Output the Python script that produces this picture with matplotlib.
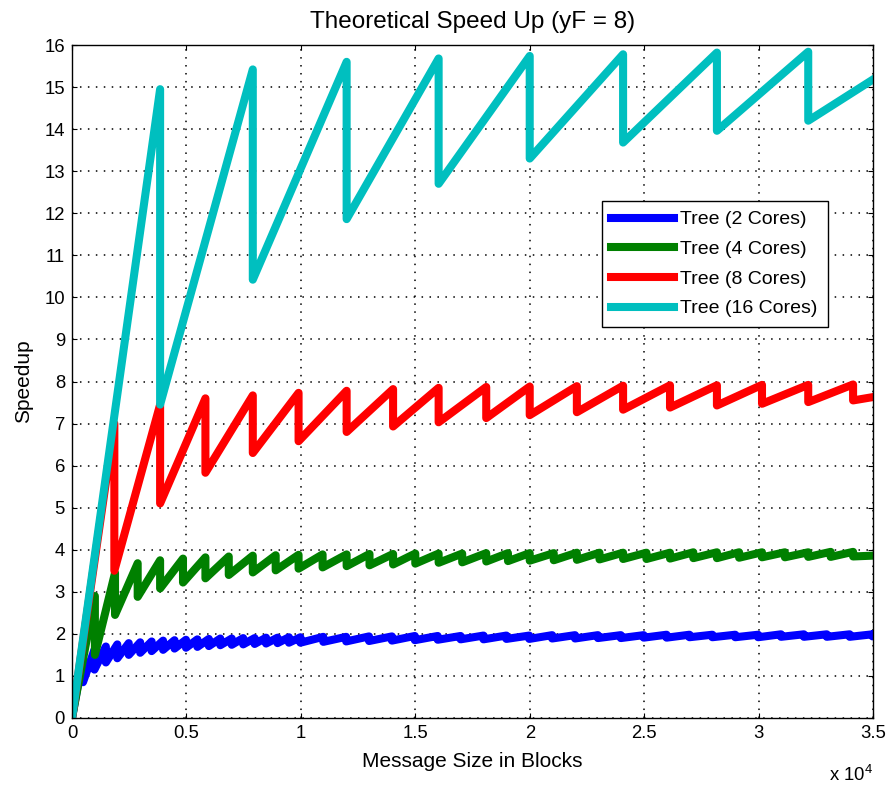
import matplotlib
matplotlib.use('Agg')
import matplotlib.pyplot as plt

plt.rcParams['font.family'] = ['Liberation Sans', 'DejaVu Sans']

x_max = 35000

# each curve is a sawtooth: position of the drop (blocks), value just before, value just after
blue_drop = [480, 980, 1480, 1980, 2480, 2980, 3480, 3980, 4480, 4980,
             5480, 5980, 6480, 6980, 7480, 7980, 8480, 8980, 9480, 9980,
             10980, 11980, 12980, 13980, 14980, 15980, 16980, 17980, 18980, 19980,
             20980, 21980, 22980, 23980, 24980, 25980, 26980, 27980, 28980, 29980,
             30980, 31980, 32980, 33980, 34980]
blue_peak = [1.45, 1.62, 1.7, 1.75, 1.78, 1.8, 1.82, 1.84, 1.85, 1.86,
             1.87, 1.88, 1.89, 1.89, 1.9, 1.9, 1.91, 1.91, 1.92, 1.92,
             1.93, 1.93, 1.94, 1.94, 1.95, 1.95, 1.95, 1.96, 1.96, 1.96,
             1.97, 1.97, 1.97, 1.97, 1.97, 1.98, 1.98, 1.98, 1.98, 1.98,
             1.99, 1.99, 1.99, 1.99, 1.99]
blue_trough = [0.85, 1.15, 1.32, 1.42, 1.5, 1.55, 1.59, 1.62, 1.65, 1.67,
               1.69, 1.71, 1.73, 1.74, 1.75, 1.76, 1.77, 1.78, 1.79, 1.79,
               1.81, 1.82, 1.83, 1.84, 1.85, 1.86, 1.87, 1.87, 1.88, 1.88,
               1.89, 1.89, 1.9, 1.9, 1.91, 1.91, 1.92, 1.92, 1.92, 1.92,
               1.93, 1.93, 1.93, 1.93, 1.94]
blue_end = 1.96

green_drop = [1000, 1880, 2870, 3850, 4850, 5830, 6850, 7900, 8900, 9900,
              10950, 12000, 13000, 14030, 15000, 16020, 17050, 18100, 19050, 20000,
              21050, 22060, 23050, 24080, 25100, 26130, 27150, 28180, 29150, 30150,
              31150, 32170, 33150, 34130]
green_peak = [2.9, 3.45, 3.68, 3.75, 3.79, 3.82, 3.84, 3.86, 3.87, 3.88,
              3.89, 3.89, 3.9, 3.9, 3.91, 3.91, 3.91, 3.92, 3.92, 3.92,
              3.92, 3.93, 3.93, 3.93, 3.93, 3.93, 3.94, 3.94, 3.94, 3.94,
              3.94, 3.94, 3.95, 3.95]
green_trough = [1.5, 2.45, 2.88, 3.08, 3.22, 3.32, 3.4, 3.46, 3.51, 3.55,
                3.58, 3.61, 3.63, 3.65, 3.67, 3.69, 3.7, 3.72, 3.73, 3.74,
                3.75, 3.76, 3.77, 3.78, 3.78, 3.79, 3.8, 3.8, 3.81, 3.82,
                3.82, 3.83, 3.83, 3.84]
green_end = 3.86

red_drop = [1850, 3850, 5830, 7900, 9900, 12000, 14030, 16020, 18100, 20000,
            22060, 24080, 26130, 28180, 30150, 32170, 34130]
red_peak = [7.0, 7.45, 7.6, 7.67, 7.73, 7.78, 7.82, 7.85, 7.87, 7.88,
            7.89, 7.9, 7.91, 7.91, 7.92, 7.92, 7.93]
red_trough = [3.5, 5.1, 5.83, 6.3, 6.58, 6.8, 6.93, 7.03, 7.13, 7.2,
              7.27, 7.33, 7.38, 7.43, 7.47, 7.51, 7.55]
red_end = 7.63

cyan_drop = [3850, 7900, 12000, 16020, 20000, 24080, 28180, 32170]
cyan_peak = [14.95, 15.42, 15.6, 15.68, 15.74, 15.78, 15.82, 15.84]
cyan_trough = [7.45, 10.42, 11.86, 12.7, 13.3, 13.68, 13.96, 14.2]
cyan_end = 15.18

labels = ['Tree (2 Cores)', 'Tree (4 Cores)', 'Tree (8 Cores)', 'Tree (16 Cores)']
colors = ['#0000ff', '#008000', '#ff0000', '#00bfbf']

x_ticks = [0, 5000, 10000, 15000, 20000, 25000, 30000, 35000]
x_ticklabels = ['0', '0.5', '1', '1.5', '2', '2.5', '3', '3.5']
y_ticks = list(range(0, 17))


def saw(drops, peaks, troughs, end):
    xs, ys = [0], [0]
    for d, p, t in zip(drops, peaks, troughs):
        xs += [d, d]
        ys += [p, t]
    xs.append(x_max)
    ys.append(end)
    return xs, ys


curves = [saw(blue_drop, blue_peak, blue_trough, blue_end),
          saw(green_drop, green_peak, green_trough, green_end),
          saw(red_drop, red_peak, red_trough, red_end),
          saw(cyan_drop, cyan_peak, cyan_trough, cyan_end)]

fig = plt.figure(figsize=(8.91, 7.90), dpi=100)
ax = fig.add_axes([72/891, 72/790, 801/891, 673/790])

for (xs, ys), c, lab in zip(curves, colors, labels):
    ax.plot(xs, ys, color=c, linewidth=5.8, label=lab)

ax.set_xlim(0, x_max)
ax.set_ylim(0, 16)
ax.set_xticks(x_ticks)
ax.set_xticklabels(x_ticklabels)
ax.set_yticks(y_ticks)
ax.tick_params(direction='in', top=True, right=True, length=3.6, width=0.8,
               labelsize=13.3, pad=5, colors='black')
for s in ax.spines.values():
    s.set_linewidth(1.0)
    s.set_color('black')

ax.grid(True, color='black', linestyle=(0, (1, 4.2)), linewidth=1.1)
ax.set_axisbelow(True)

ax.set_title('Theoretical Speed Up (yF = 8)', fontsize=17.5, pad=12)
ax.set_xlabel('Message Size in Blocks', fontsize=15)
ax.set_ylabel('Speedup', fontsize=15)
ax.xaxis.set_label_coords(0.5, -0.05)
ax.xaxis.label.set_va('top')
ax.yaxis.set_label_coords(-0.049, 0.5)

ax.text(1.0, -0.0936, r'x 10$^{\mathregular{4}}$', transform=ax.transAxes,
        ha='right', va='baseline', fontsize=13.3)

leg = ax.legend(loc='upper left', bbox_to_anchor=(0.6613, 0.7682), borderaxespad=0,
                fontsize=14, fancybox=False, edgecolor='black', framealpha=1,
                handlelength=3.2, handletextpad=0.35, labelspacing=0.62, borderpad=0.5)
leg.get_frame().set_linewidth(1.0)

fig.savefig('out.png', dpi=100, facecolor='white')
